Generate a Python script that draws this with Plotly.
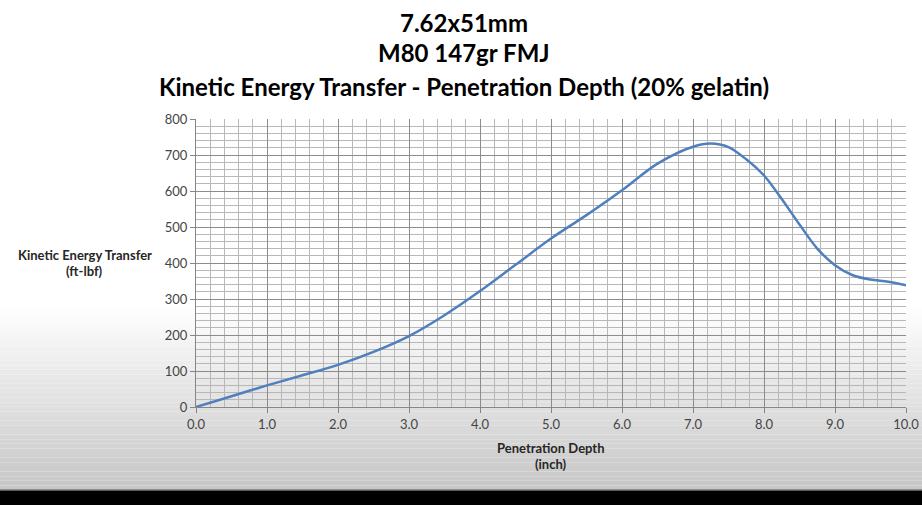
import plotly.graph_objects as go

depth = [0.0, 0.5, 1.0, 1.5, 2.0, 2.5, 3.0, 3.5, 4.0, 4.5, 5.0, 5.5, 6.0, 6.5, 7.0, 7.25, 7.5, 7.75, 8.0, 8.25, 8.5, 8.75, 9.0, 9.25, 9.5, 9.75, 10.0]
energy = [0, 30, 60, 88, 117, 153, 197, 255, 322, 395, 468, 533, 602, 676, 723, 732, 722, 688, 643, 578, 507, 440, 394, 366, 354, 348, 338]

x_ticks = [0, 1, 2, 3, 4, 5, 6, 7, 8, 9, 10]
x_tick_labels = ["0.0", "1.0", "2.0", "3.0", "4.0", "5.0", "6.0", "7.0", "8.0", "9.0", "10.0"]
y_ticks = [0, 100, 200, 300, 400, 500, 600, 700, 800]

title_lines = ["7.62x51mm", "M80 147gr FMJ", "Kinetic Energy Transfer - Penetration Depth (20% gelatin)"]

W, H = 922, 505
L, R, T, B = 196, 16, 119, 98
plot_h = H - T - B

def py(Y):
    return (H - B - Y) / plot_h

def px(X):
    return (X - L) / (W - L - R)

fig = go.Figure()
fig.add_trace(go.Scatter(x=depth, y=energy, mode="lines",
                         line=dict(color="#4f7fbd", width=2.5, shape="spline", smoothing=0.9),
                         hoverinfo="skip"))

shapes = []
# background gradient
g0, g1 = 305, 490
n = 40
for i in range(n):
    y0 = g0 + (g1 - g0) * i / n
    y1 = g0 + (g1 - g0) * (i + 1) / n
    t = (i + 0.5) / n
    c = int(round(255 - t * 57))
    shapes.append(dict(type="rect", xref="paper", yref="paper", layer="below",
                       x0=px(0), x1=px(W), y0=py(y1), y1=py(y0),
                       fillcolor=f"rgb({c},{c},{c})", line=dict(width=0)))
shapes.append(dict(type="rect", xref="paper", yref="paper", layer="above",
                   x0=px(0), x1=px(W), y0=py(H + 2), y1=py(490),
                   fillcolor="#000000", line=dict(width=0)))
shapes.append(dict(type="line", xref="paper", yref="paper", layer="above",
                   x0=px(0), x1=px(W), y0=py(490), y1=py(490),
                   line=dict(color="#7a7a7a", width=1.5)))

annotations = []
for txt, yc in zip(title_lines, [22, 52, 87]):
    annotations.append(dict(text=f"<b>{txt}</b>", xref="paper", yref="paper",
                            x=px(464), y=py(yc), showarrow=False,
                            xanchor="center", yanchor="middle",
                            font=dict(family="Lato", size=24, color="#000000")))
lab_font = dict(family="Lato", size=13, color="#262626")
annotations.append(dict(text="<b>Kinetic Energy Transfer</b>", xref="paper", yref="paper",
                        x=px(85), y=py(255), showarrow=False, xanchor="center", yanchor="middle",
                        font=lab_font))
annotations.append(dict(text="<b>(ft-lbf)</b>", xref="paper", yref="paper",
                        x=px(85), y=py(271), showarrow=False, xanchor="center", yanchor="middle",
                        font=lab_font))
annotations.append(dict(text="<b>Penetration Depth</b>", xref="paper", yref="paper",
                        x=px(551), y=py(448), showarrow=False, xanchor="center", yanchor="middle",
                        font=lab_font))
annotations.append(dict(text="<b>(inch)</b>", xref="paper", yref="paper",
                        x=px(551), y=py(464), showarrow=False, xanchor="center", yanchor="middle",
                        font=lab_font))

tick_font = dict(family="Lato", size=13, color="#454545")
fig.update_layout(
    template="none",
    width=W, height=H,
    margin=dict(l=L, r=R, t=T, b=B, autoexpand=False),
    paper_bgcolor="#ffffff",
    plot_bgcolor="rgba(0,0,0,0)",
    showlegend=False,
    shapes=shapes,
    annotations=annotations,
    xaxis=dict(range=[0, 10], tickvals=x_ticks, ticktext=x_tick_labels,
               automargin=False,
               showgrid=True, gridcolor="#8c8c8c", gridwidth=1,
               minor=dict(dtick=0.2, showgrid=True, gridcolor="#b8b8b8", gridwidth=1),
               ticks="outside", ticklen=5, tickcolor="#868686",
               showline=True, linecolor="#868686", linewidth=1,
               zeroline=False, mirror=False,
               tickfont=tick_font),
    yaxis=dict(range=[0, 800], tickvals=y_ticks,
               automargin=False,
               showgrid=True, gridcolor="#8c8c8c", gridwidth=1,
               minor=dict(dtick=20, showgrid=True, gridcolor="#b8b8b8", gridwidth=1),
               ticks="outside", ticklen=5, tickcolor="#868686",
               showline=True, linecolor="#868686", linewidth=1,
               zeroline=False,
               tickfont=tick_font),
)

fig.write_html("out.html")
